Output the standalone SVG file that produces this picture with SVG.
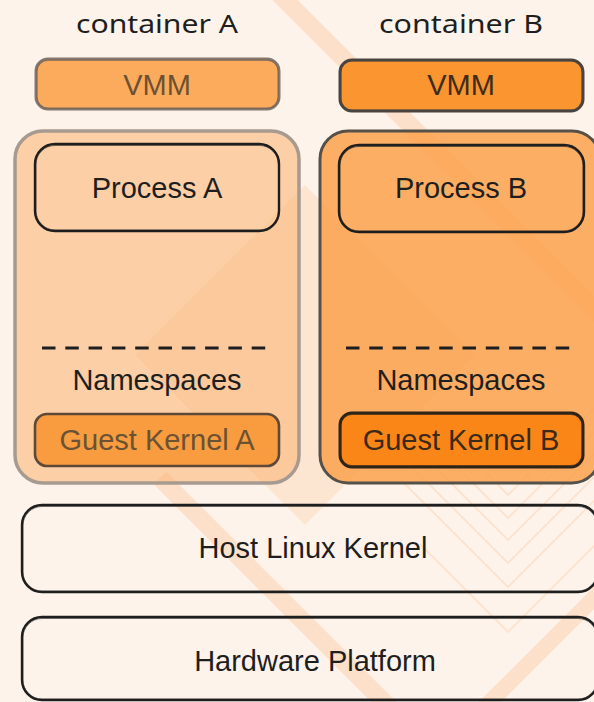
<svg xmlns="http://www.w3.org/2000/svg" width="594" height="702" viewBox="0 0 594 702">
  <style>
    .lbl { font-family: "Liberation Sans", Arial, sans-serif; font-size: 29px; text-anchor: middle; fill: #1e1e1e; }
    .title { font-family: "Noto Sans", "DejaVu Sans", sans-serif; font-size: 26px; text-anchor: middle; fill: #1e1e1e; }
    .ink { fill: none; stroke: #1e1e1e; stroke-width: 2.4; stroke-linejoin: round; }
    .ink2 { fill: none; stroke: #1e1e1e; stroke-width: 1; opacity: 0.55; }
    .band { stroke: #fde0c9; stroke-linecap: butt; fill: none; }
    .chev { fill: none; stroke: #fce2cd; stroke-width: 1.8; }
    .dash { stroke: #1e1e1e; stroke-width: 3; stroke-dasharray: 13.5 9.8; }
  </style>

  <!-- paper and decorative background -->
  <rect x="0" y="0" width="594" height="702" fill="#fdf3ea"/>
  <g id="backdrop">
    <polygon points="305,185 475,355 305,525 135,355" fill="#f9a25a" fill-opacity="0.16"/>
    <line class="band" x1="275" y1="-10" x2="620" y2="335" stroke-width="18"/>
    <line class="band" x1="160" y1="478" x2="395" y2="713" stroke-width="18"/>
    <line class="band" x1="480" y1="712" x2="610" y2="582" stroke-width="16"/>
    <polyline class="chev" points="400,387 508,495 616,387"/>
    <polyline class="chev" points="400,410 508,518 616,410"/>
    <polyline class="chev" points="400,432 508,540 616,432"/>
    <polyline class="chev" points="400,455 508,563 616,455"/>
    <polyline class="chev" points="400,479 508,587 616,479"/>
    <polyline class="chev" points="420,544 508,632 596,544"/>
  </g>

  <!-- column titles -->
  <text class="title" x="157" y="33" textLength="162" lengthAdjust="spacingAndGlyphs">container A</text>
  <text class="title" x="461" y="33" textLength="164" lengthAdjust="spacingAndGlyphs">container B</text>

  <!-- VMM bars -->
  <g id="vmm-a">
    <rect x="36" y="59" width="243" height="50" rx="12" fill="#fcab5c" stroke="#6f635a" stroke-width="3" stroke-opacity="0.85"/>
    <rect x="37" y="60.5" width="241.5" height="48" rx="11" fill="none" stroke="#6f635a" stroke-width="1" stroke-opacity="0.5"/>
    <text class="lbl" x="157" y="95" style="fill:#6b5234">VMM</text>
  </g>
  <g id="vmm-b">
    <rect x="340" y="60" width="243" height="51" rx="12" fill="#fb952f" stroke="#4a4440" stroke-width="3"/>
    <rect x="341" y="61" width="241" height="49" rx="11" fill="none" stroke="#4a4440" stroke-width="1" stroke-opacity="0.5"/>
    <text class="lbl" x="461" y="95" style="fill:#3e2c1c">VMM</text>
  </g>

  <!-- container A -->
  <g id="container-a">
    <rect x="15" y="131" width="284" height="352" rx="28" fill="#fcb070" fill-opacity="0.55" stroke="#a79a90" stroke-width="3.5"/>
    <g id="process-a">
      <rect class="ink" x="35" y="144" width="244" height="87" rx="20"/>
      <rect class="ink2" x="36" y="145.5" width="242.5" height="84.5" rx="19"/>
      <text class="lbl" x="157" y="198">Process A</text>
    </g>
    <line class="dash" x1="42" y1="348" x2="268" y2="348"/>
    <text class="lbl" x="157" y="390">Namespaces</text>
    <g id="guest-kernel-a">
      <rect x="35" y="414" width="244" height="52" rx="12" fill="#f99c3f" stroke="#5e4a38" stroke-width="2.6"/>
      <text class="lbl" x="157" y="450" style="fill:#6b5234">Guest Kernel A</text>
    </g>
  </g>

  <!-- container B -->
  <g id="container-b">
    <rect x="320" y="131" width="280" height="352" rx="28" fill="#fb9f48" fill-opacity="0.82" stroke="#555049" stroke-width="3"/>
    <g id="process-b">
      <rect class="ink" x="339" y="145" width="245" height="87" rx="20"/>
      <rect class="ink2" x="340" y="146.5" width="243" height="84.5" rx="19"/>
      <text class="lbl" x="461" y="198">Process B</text>
    </g>
    <line class="dash" x1="346" y1="348" x2="572" y2="348"/>
    <text class="lbl" x="461" y="390">Namespaces</text>
    <g id="guest-kernel-b">
      <rect x="340" y="413" width="243" height="54" rx="12" fill="#fa8618" stroke="#2f2418" stroke-width="3"/>
      <rect x="341" y="414.5" width="241" height="51" rx="11" fill="none" stroke="#2f2418" stroke-width="1" stroke-opacity="0.5"/>
      <text class="lbl" x="461" y="450" style="fill:#3b2a18">Guest Kernel B</text>
    </g>
  </g>

  <!-- host layers -->
  <g id="host-kernel">
    <rect class="ink" x="22" y="505" width="576" height="87" rx="20"/>
    <rect class="ink2" x="23" y="506.5" width="574" height="84.5" rx="19"/>
    <text class="lbl" x="313" y="558">Host Linux Kernel</text>
  </g>
  <g id="hardware">
    <rect class="ink" x="22" y="617" width="576" height="83" rx="20"/>
    <rect class="ink2" x="23" y="618.5" width="574" height="80.5" rx="19"/>
    <text class="lbl" x="315" y="671">Hardware Platform</text>
  </g>

  <g id="connectors"/>
</svg>
